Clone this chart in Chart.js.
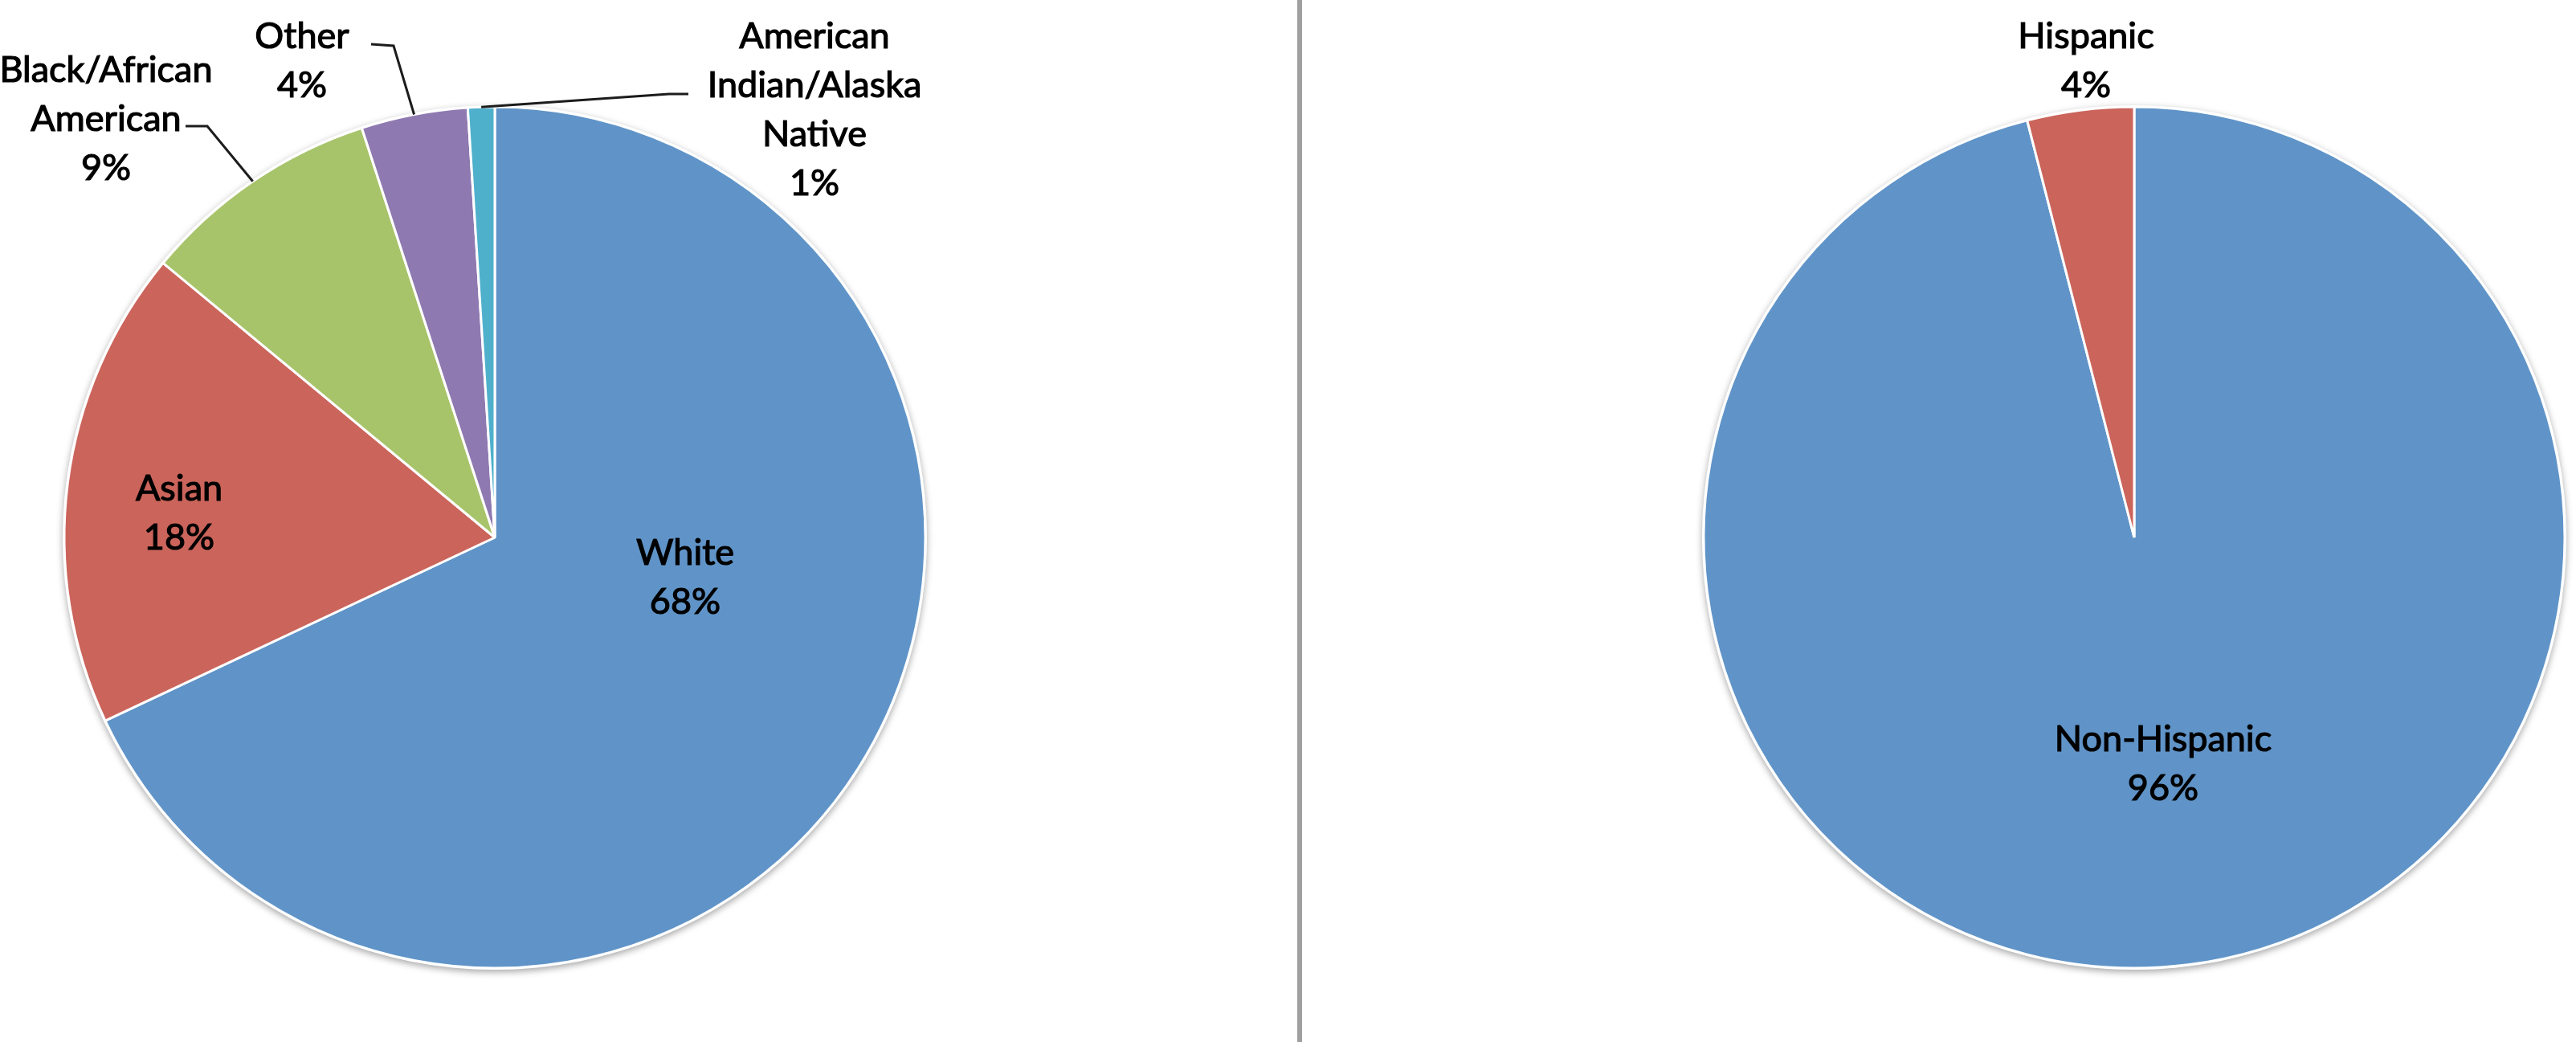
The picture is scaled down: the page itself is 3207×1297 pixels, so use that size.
<!DOCTYPE html>
<html>
<head>
<meta charset="utf-8">
<script src="https://cdn.jsdelivr.net/npm/chart.js@4.4.1/dist/chart.umd.min.js"></script>
<style>
  html, body { margin: 0; padding: 0; background: #fff; overflow: hidden; }
  #page { position: relative; width: 3207px; height: 1297px; }
  #race-wrap { position: absolute; left: 0; top: 0; width: 1615px; height: 1297px; }
  #ethnicity-wrap { position: absolute; left: 1622px; top: 0; width: 1585px; height: 1297px; }
  #divider { position: absolute; left: 1615px; top: 0; width: 6px; height: 1297px; background: #a0a0a0; }
</style>
</head>
<body>
<div id="page">
  <div id="race-wrap"><canvas id="race-chart"></canvas></div>
  <div id="divider"></div>
  <div id="ethnicity-wrap"><canvas id="ethnicity-chart"></canvas></div>
</div>
<script>
// Data
const raceLabels = [['White'], ['Asian'], ['Black/African', 'American'], ['Other'], ['American', 'Indian/Alaska', 'Native']];
const racePercent = [68, 18, 9, 4, 1];
const ethnicityLabels = [['Non-Hispanic'], ['Hispanic']];
const ethnicityPercent = [96, 4];

const raceColors = ['#6094c8', '#cb645b', '#a8c46b', '#8f79b1', '#4fb0cc'];
const ethnicityColors = ['#6094c8', '#cb645b'];

// Label placement, relative to the pie centre (first baseline, centred text)
// leader: [startX, startY, elbowX, elbowY] relative to the label anchor
const racePlacement = [
  { dx: 237, dy: 34 },
  { dx: -393, dy: -46 },
  { dx: -484, dy: -567, leader: [99, 55, 126, 55] },
  { dx: -240, dy: -609, leader: [86, -5, 114, -3] },
  { dx: 398, dy: -609, leader: [-157, 57, -181, 57] }
];
const ethnicityPlacement = [
  { dx: 36, dy: 266 },
  { dx: -60, dy: -609 }
];

const FONT = '45px Lato, "Open Sans", sans-serif';
const LINE_HEIGHT = 61;
const PIE_RADIUS = 536;

// Draws the soft shadow under the pie and the Excel-like data labels
const sliceLabels = {
  id: 'sliceLabels',
  beforeDatasetsDraw(chart) {
    const arc = chart.getDatasetMeta(0).data[0];
    if (!arc) return;
    const { x, y, outerRadius } = arc.getProps(['x', 'y', 'outerRadius'], true);
    const ctx = chart.ctx;
    ctx.save();
    ctx.shadowColor = 'rgba(0,0,0,0.35)';
    ctx.shadowBlur = 9;
    ctx.shadowOffsetY = 3;
    ctx.beginPath();
    ctx.arc(x, y, outerRadius + 2, 0, Math.PI * 2);
    ctx.fillStyle = '#fff';
    ctx.fill();
    ctx.restore();
  },
  afterDatasetsDraw(chart, args, opts) {
    const ctx = chart.ctx;
    const meta = chart.getDatasetMeta(0);
    const values = chart.data.datasets[0].data;
    ctx.save();
    ctx.font = FONT;
    ctx.textAlign = 'center';
    ctx.textBaseline = 'alphabetic';
    meta.data.forEach((arc, i) => {
      const p = opts.place[i];
      const { x, y, startAngle, endAngle, outerRadius } =
        arc.getProps(['x', 'y', 'startAngle', 'endAngle', 'outerRadius'], true);
      const ax = x + p.dx;
      const ay = y + p.dy;
      if (p.leader) {
        const mid = (startAngle + endAngle) / 2;
        ctx.beginPath();
        ctx.moveTo(ax + p.leader[0], ay + p.leader[1]);
        ctx.lineTo(ax + p.leader[2], ay + p.leader[3]);
        ctx.lineTo(x + Math.cos(mid) * outerRadius, y + Math.sin(mid) * outerRadius);
        ctx.strokeStyle = '#1c1c1c';
        ctx.lineWidth = 3;
        ctx.stroke();
      }
      const lines = [].concat(chart.data.labels[i], values[i] + '%');
      ctx.fillStyle = '#000';
      ctx.strokeStyle = '#000';
      ctx.lineWidth = 1.2;
      lines.forEach((t, k) => {
        ctx.fillText(t, ax, ay + k * LINE_HEIGHT);
        ctx.strokeText(t, ax, ay + k * LINE_HEIGHT);
      });
    });
    ctx.restore();
  }
};

function pieOptions(padding, place) {
  return {
    responsive: true,
    maintainAspectRatio: false,
    animation: false,
    devicePixelRatio: 1,
    events: [],
    layout: { padding },
    plugins: {
      legend: { display: false },
      tooltip: { enabled: false },
      sliceLabels: { place }
    }
  };
}

// Race pie
const raceChart = new Chart(document.getElementById('race-chart'), {
  type: 'pie',
  data: {
    labels: raceLabels,
    datasets: [{
      data: racePercent,
      backgroundColor: raceColors,
      borderColor: '#ffffff',
      borderWidth: 3,
      radius: PIE_RADIUS
    }]
  },
  options: pieOptions({ left: 0, right: 383, top: 41, bottom: 0 }, racePlacement),
  plugins: [sliceLabels]
});

// Ethnicity pie
const ethnicityChart = new Chart(document.getElementById('ethnicity-chart'), {
  type: 'pie',
  data: {
    labels: ethnicityLabels,
    datasets: [{
      data: ethnicityPercent,
      backgroundColor: ethnicityColors,
      borderColor: '#ffffff',
      borderWidth: 3,
      radius: PIE_RADIUS
    }]
  },
  options: pieOptions({ left: 485, right: 0, top: 41, bottom: 0 }, ethnicityPlacement),
  plugins: [sliceLabels]
});
</script>
</body>
</html>
